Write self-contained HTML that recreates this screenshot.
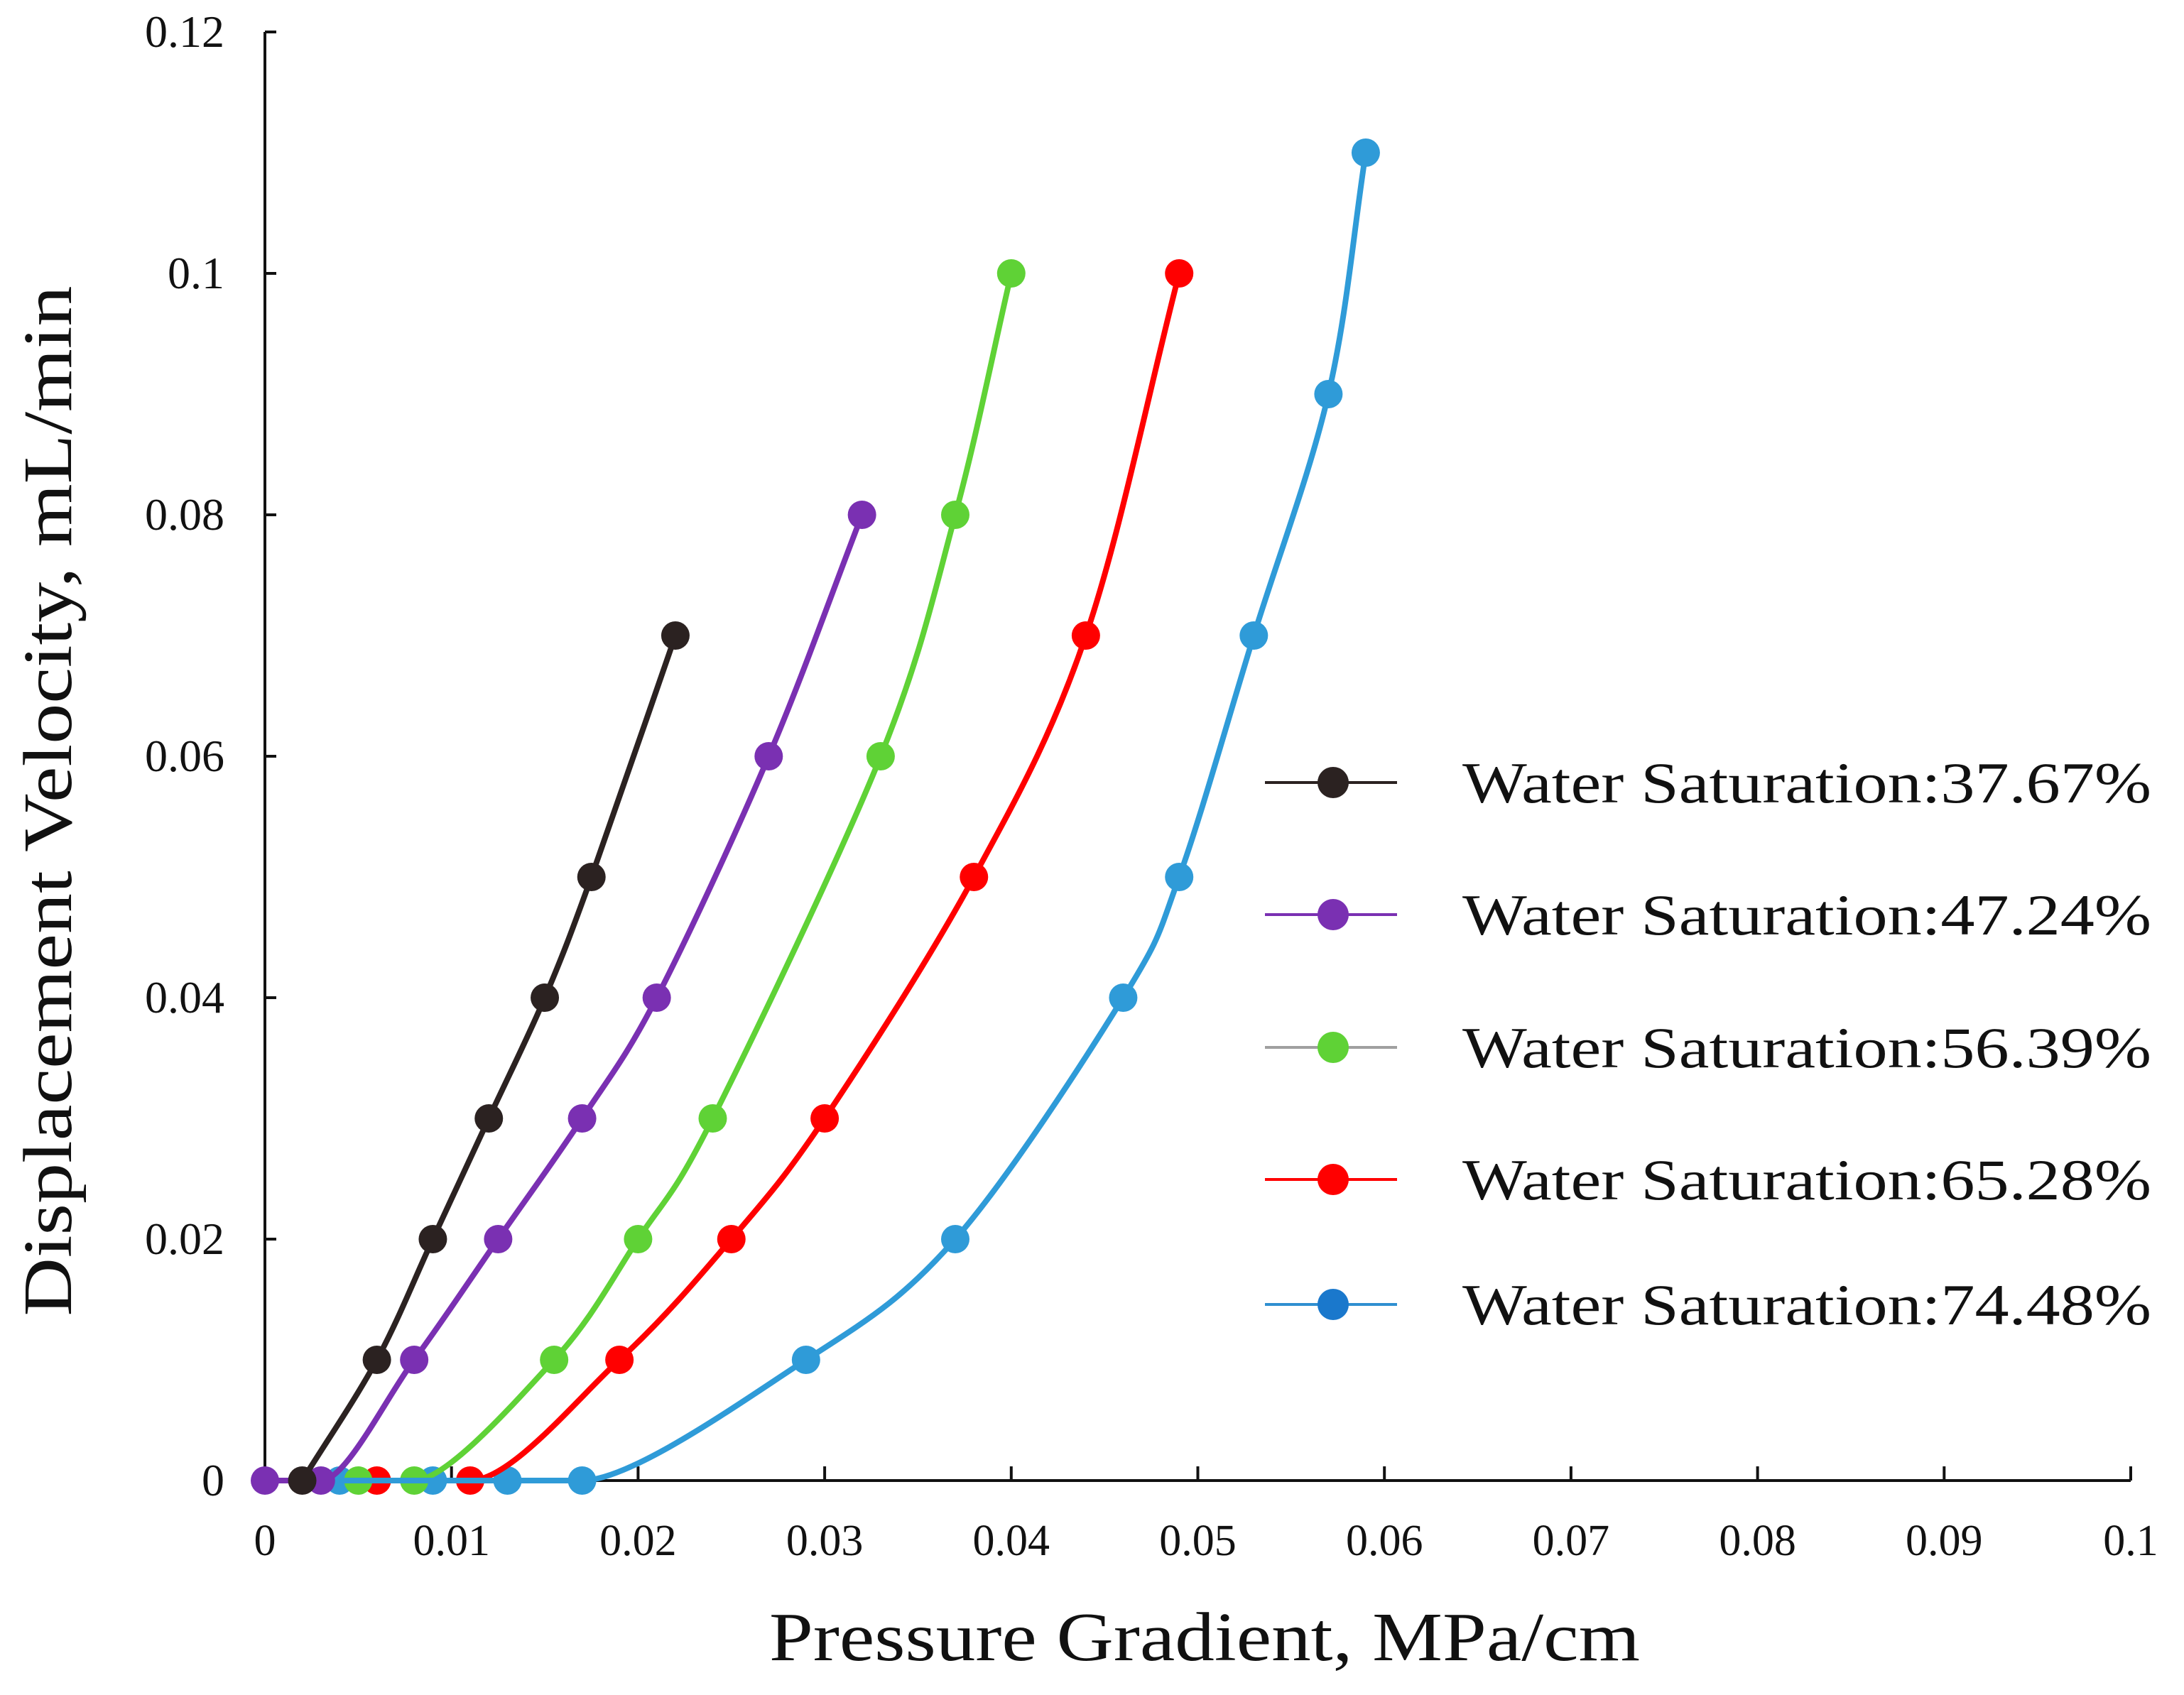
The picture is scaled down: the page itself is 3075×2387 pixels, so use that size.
<!DOCTYPE html>
<html><head><meta charset="utf-8"><style>
html,body{margin:0;padding:0;background:#fff;}
svg{display:block;}
text{font-family:"Liberation Serif",serif;fill:#111;}
</style></head>
<body>
<svg id="chart" width="3075" height="2387" viewBox="0 0 3075 2387" xmlns="http://www.w3.org/2000/svg">
<rect x="0" y="0" width="3075" height="2387" fill="#fff"/>
<g id="axes"></g>
<g id="series"></g>
<g id="legend"></g>
<text x="1696" y="2338" font-size="98" text-anchor="middle" textLength="1226" lengthAdjust="spacingAndGlyphs">Pressure Gradient, MPa/cm</text>
<text transform="translate(100,1128) rotate(-90)" x="0" y="0" font-size="98" text-anchor="middle" textLength="1451" lengthAdjust="spacingAndGlyphs">Displacement Velocity, mL/min</text>
</svg>
<script>
const xTicks = [0,0.01,0.02,0.03,0.04,0.05,0.06,0.07,0.08,0.09,0.1];
const xTickLabels = ["0","0.01","0.02","0.03","0.04","0.05","0.06","0.07","0.08","0.09","0.1"];
const yTicks = [0,0.02,0.04,0.06,0.08,0.1,0.12];
const yTickLabels = ["0","0.02","0.04","0.06","0.08","0.1","0.12"];
const seriesNames = ["Water Saturation:37.67%","Water Saturation:47.24%","Water Saturation:56.39%","Water Saturation:65.28%","Water Saturation:74.48%"];
const s1x = [0.002,0.006,0.009,0.012,0.015,0.0175,0.022];
const s1y = [0,0.01,0.02,0.03,0.04,0.05,0.07];
const s2x = [0,0.003,0.008,0.0125,0.017,0.021,0.027,0.032];
const s2y = [0,0,0.01,0.02,0.03,0.04,0.06,0.08];
const s3x = [0.005,0.008,0.0155,0.020,0.024,0.033,0.037,0.040];
const s3y = [0,0,0.01,0.02,0.03,0.06,0.08,0.1];
const s4x = [0.006,0.011,0.019,0.025,0.030,0.038,0.044,0.049];
const s4y = [0,0,0.01,0.02,0.03,0.05,0.07,0.1];
const s5x = [0.004,0.009,0.013,0.017,0.029,0.037,0.046,0.049,0.053,0.057,0.059];
const s5y = [0,0,0,0,0.01,0.02,0.04,0.05,0.07,0.09,0.11];

const NS="http://www.w3.org/2000/svg";
const X0=373, X1=3000, Y0=2085, YT=45;
function sx(v){return X0+(v-0)/(0.1)*(X1-X0);}
function sy(v){return Y0-(v/0.12)*(Y0-YT);}
function mk(tag,attrs,parent){const e=document.createElementNS(NS,tag);for(const k in attrs)e.setAttribute(k,attrs[k]);parent.appendChild(e);return e;}

const axes=document.getElementById('axes');
let l=mk('line',{x1:X0,y1:Y0,x2:X1,y2:Y0,stroke:'#111','stroke-width':4},axes);


l=mk('line',{x1:X0,y1:Y0+2,x2:X0,y2:YT,stroke:'#111','stroke-width':4},axes);


xTicks.forEach((v,i)=>{
  const t=mk('line',{x1:sx(v),y1:Y0,x2:sx(v),y2:Y0-20,stroke:'#111','stroke-width':4},axes);
  
  
  const tx=mk('text',{x:sx(v),y:2190,'font-size':62,'text-anchor':'middle'},axes);
  tx.textContent=xTickLabels[i];
  
  
});
yTicks.forEach((v,i)=>{
  const t=mk('line',{x1:X0,y1:sy(v),x2:X0+16,y2:sy(v),stroke:'#111','stroke-width':4},axes);
  
  
  const tx=mk('text',{x:316,y:sy(v)+21,'font-size':64,'text-anchor':'end'},axes);
  tx.textContent=yTickLabels[i];
  
  
});

function splinePath(xs,ys){
  const n=xs.length, px=xs.map(sx), py=ys.map(sy);
  const tx=[],ty=[];
  for(let i=0;i<n;i++){
    const a=Math.max(0,i-1), b=Math.min(n-1,i+1);
    let dx=(px[b]-px[a])/2, dy=(py[b]-py[a])/2;
    if(i===0||i===n-1){dx=(px[b]-px[a]);dy=(py[b]-py[a]);}
    const flatPrev = i>0 && ys[i]===ys[i-1];
    const flatNext = i<n-1 && ys[i]===ys[i+1];
    if(flatPrev||flatNext) dy=0;
    tx.push(dx);ty.push(dy);
  }
  let p='M'+px[0]+','+py[0];
  for(let i=0;i<n-1;i++){
    const c1x=px[i]+tx[i]/3, c1y=py[i]+ty[i]/3;
    const c2x=px[i+1]-tx[i+1]/3, c2y=py[i+1]-ty[i+1]/3;
    p+=' C'+c1x+','+c1y+' '+c2x+','+c2y+' '+px[i+1]+','+py[i+1];
  }
  return p;
}
const seriesX=[s1x,s2x,s3x,s4x,s5x], seriesY=[s1y,s2y,s3y,s4y,s5y];
const colors=['#2b2221','#7a30b2','#5fd236','#ff0000','#2f9bd8'];
const legMarker=['#2b2221','#7a30b2','#5fd236','#ff0000','#1a78cc'];
const legLine=['#2b2221','#7a30b2','#a0a0a0','#ff0000','#2f8fd0'];
const sg=document.getElementById('series');
const order=[4,3,2,1,0];
order.forEach(k=>{
  const g=mk('g',{},sg);
  
  
  const p=mk('path',{d:splinePath(seriesX[k],seriesY[k]),fill:'none',stroke:colors[k],'stroke-width':8},g);
  
  
  seriesX[k].forEach((v,i)=>{
    const c=mk('circle',{cx:sx(v),cy:sy(seriesY[k][i]),r:20,fill:colors[k]},g);
    
    
  });
});
const bl=mk('path',{d:splinePath(s5x.slice(0,4),s5y.slice(0,4)),fill:'none',stroke:colors[4],'stroke-width':8},sg);



const lg=document.getElementById('legend');
const legY=[1102,1288,1475,1661,1837];
seriesNames.forEach((name,i)=>{
  const g=mk('g',{},lg);
  
  
  const ln=mk('line',{x1:1781,y1:legY[i],x2:1967,y2:legY[i],stroke:legLine[i],'stroke-width':4},g);
  
  
  const c=mk('circle',{cx:1877,cy:legY[i],r:22,fill:legMarker[i]},g);
  
  
  const t=mk('text',{x:2059,y:legY[i]+28,'font-size':82,textLength:970,lengthAdjust:'spacingAndGlyphs'},g);
  t.textContent=name;
  
  
});
</script>
</body></html>
